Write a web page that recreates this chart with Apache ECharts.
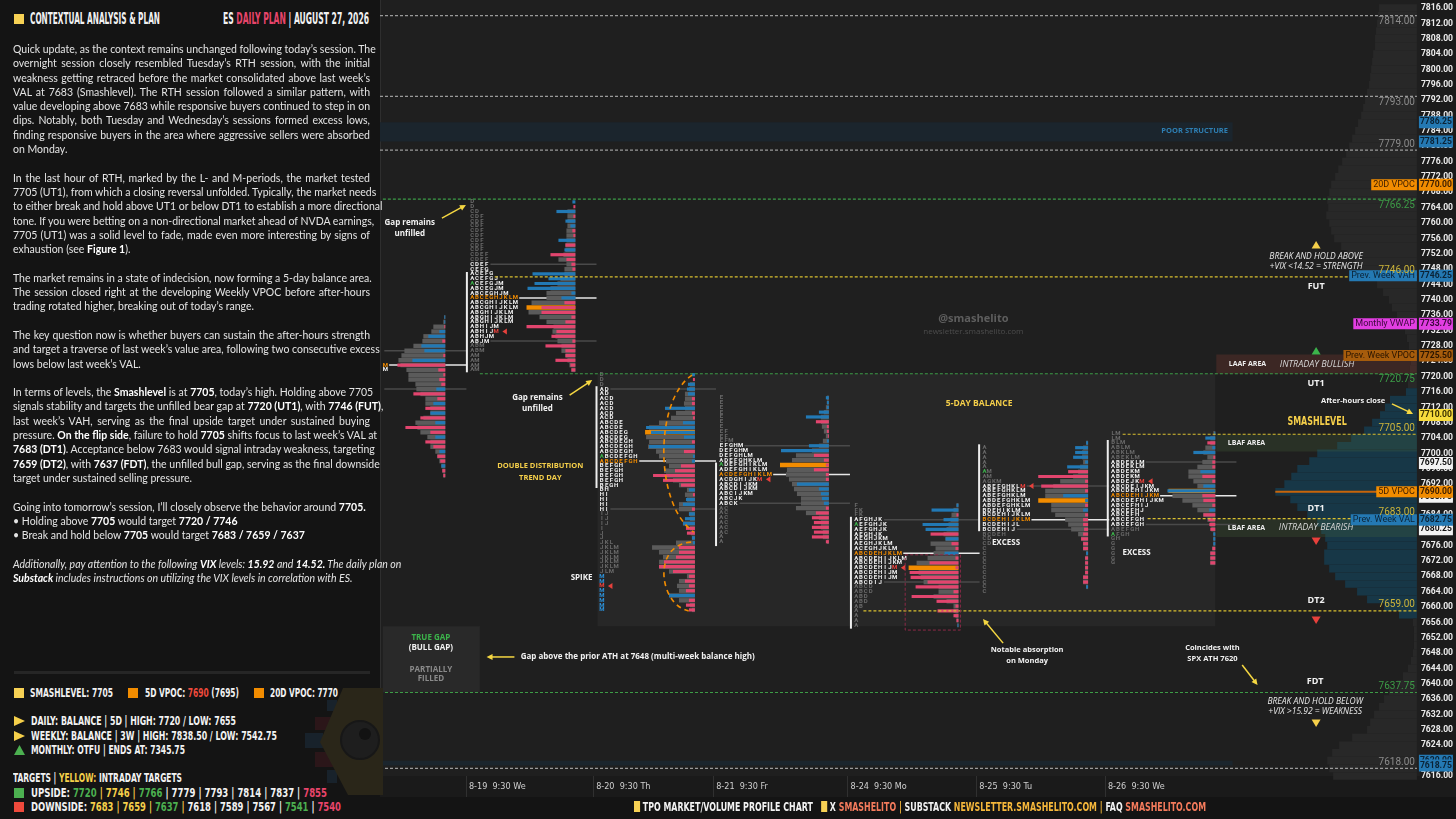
<!DOCTYPE html>
<html lang="en">
<head>
<meta charset="UTF-8">
<title>ES Daily Plan - Contextual Analysis &amp; Plan</title>
<script src="https://cdn.jsdelivr.net/npm/echarts@6.0.0/dist/echarts.min.js"></script>
<style>
html, body { margin: 0; padding: 0; width: 1456px; height: 819px; overflow: hidden; background: #141414; }
#plotbg { position: absolute; left: 380px; top: 0; width: 1040px; height: 776px; background: #1f1f1f; }
#axisbg { position: absolute; left: 1420px; top: 0; width: 36px; height: 797px; background: #1b1b1b; }
#xbg { position: absolute; left: 380px; top: 776px; width: 1040px; height: 21px; background: #1a1a1a; }
#chart { position: absolute; left: 0; top: 0; width: 1456px; height: 819px; }
#panel { position: absolute; left: 0; top: 0; width: 380px; height: 819px; background: #141414; color: #e6e6e6; }
.cond { font-family: "Liberation Sans Narrow", "DejaVu Sans Condensed", "Liberation Sans", sans-serif; font-weight: bold; font-size: 13px; line-height: 14px; color: #f2f2f2; }
.fit { position: absolute; display: inline-block; white-space: nowrap; transform-origin: 0 50%; }
.big { font-size: 15px; line-height: 16px; }
.sq { position: absolute; width: 10px; height: 10px; }
.sqi { display: inline-block; width: 9px; height: 11px; vertical-align: -1px; margin-right: 4px; }
.body { position: absolute; left: 13px; top: 42px; width: 357px; font-family: Lato, "Noto Sans", sans-serif; font-size: 10.5px; line-height: 14.3px; color: #e4e4e4; }
.body div { height: 14.3px; white-space: nowrap; text-align: justify; text-align-last: justify; }
.body div.e { text-align-last: left; }
.body b { font-weight: 700; color: #fff; }
.y { color: #f5cf4a; } .g { color: #4cb050; } .r { color: #ef4a3c; } .p { color: #e8456b; }
.o { color: #f47b5c; } .n { color: #f5b73b; }
.bgy { background: #f7d154; } .bgo { background: #f28c00; } .bgg { background: #4cb050; } .bgr { background: #ef4a3c; }
#sep { position: absolute; left: 14px; top: 671px; width: 356px; height: 3px; background: #262626; }
#logo { position: absolute; left: 0; top: 0; width: 400px; height: 819px; pointer-events: none; }
</style>
</head>
<body>
<div id="plotbg"></div>
<div id="axisbg"></div>
<div id="xbg"></div>
<div id="chart"></div>

<div id="panel">
  <svg id="logo" viewBox="0 0 400 819">
    <rect x="327" y="700" width="10" height="11" fill="#18222b"/>
    <rect x="315" y="717" width="18" height="13" fill="#2b1619"/>
    <rect x="305" y="733" width="18" height="15" fill="#18222b"/>
    <rect x="315" y="752" width="18" height="15" fill="#2b1619"/>
    <rect x="327" y="770" width="10" height="13" fill="#18222b"/>
    <polygon points="343,688 383,688 383,795 348,795 320,742" fill="#2a2619"/>
    <circle cx="360" cy="740" r="19" fill="#1e1e1e" stroke="#171717" stroke-width="2"/>
    <circle cx="365" cy="734" r="6" fill="#121212"/>
  </svg>

  <div class="sq bgy" style="left:14px;top:14px"></div>
  <span class="cond big fit" data-w="130" style="left:30px;top:11px">CONTEXTUAL ANALYSIS &amp; PLAN</span>
  <span class="cond big fit" data-w="146" style="left:223px;top:11px">ES <span class="p">DAILY PLAN</span> | AUGUST 27, 2026</span>

  <div class="body">
    <div>Quick update, as the context remains unchanged following today’s session. The</div>
    <div>overnight session closely resembled Tuesday’s RTH session, with the initial</div>
    <div>weakness getting retraced before the market consolidated above last week’s</div>
    <div>VAL at 7683 (Smashlevel). The RTH session followed a similar pattern, with</div>
    <div>value developing above 7683 while responsive buyers continued to step in on</div>
    <div>dips. Notably, both Tuesday and Wednesday’s sessions formed excess lows,</div>
    <div>finding responsive buyers in the area where aggressive sellers were absorbed</div>
    <div class="e">on Monday.</div>
    <div class="e">&nbsp;</div>
    <div>In the last hour of RTH, marked by the L- and M-periods, the market tested</div>
    <div>7705 (UT1), from which a closing reversal unfolded. Typically, the market needs</div>
    <div>to either break and hold above UT1 or below DT1 to establish a more directional</div>
    <div>tone. If you were betting on a non-directional market ahead of NVDA earnings,</div>
    <div>7705 (UT1) was a solid level to fade, made even more interesting by signs of</div>
    <div class="e">exhaustion (see <b>Figure 1</b>).</div>
    <div class="e">&nbsp;</div>
    <div>The market remains in a state of indecision, now forming a 5-day balance area.</div>
    <div>The session closed right at the developing Weekly VPOC before after-hours</div>
    <div class="e">trading rotated higher, breaking out of today’s range.</div>
    <div class="e">&nbsp;</div>
    <div>The key question now is whether buyers can sustain the after-hours strength</div>
    <div>and target a traverse of last week’s value area, following two consecutive excess</div>
    <div class="e">lows below last week’s VAL.</div>
    <div class="e">&nbsp;</div>
    <div>In terms of levels, the <b>Smashlevel</b> is at <b>7705</b>, today’s high. Holding above 7705</div>
    <div>signals stability and targets the unfilled bear gap at <b>7720 (UT1)</b>, with <b>7746 (FUT)</b>,</div>
    <div>last week’s VAH, serving as the final upside target under sustained buying</div>
    <div>pressure. <b>On the flip side</b>, failure to hold <b>7705</b> shifts focus to last week’s VAL at</div>
    <div><b>7683 (DT1)</b>. Acceptance below 7683 would signal intraday weakness, targeting</div>
    <div><b>7659 (DT2)</b>, with <b>7637 (FDT)</b>, the unfilled bull gap, serving as the final downside</div>
    <div class="e">target under sustained selling pressure.</div>
    <div class="e">&nbsp;</div>
    <div class="e">Going into tomorrow’s session, I’ll closely observe the behavior around <b>7705.</b></div>
    <div class="e">• Holding above <b>7705</b> would target <b>7720 / 7746</b></div>
    <div class="e">• Break and hold below <b>7705</b> would target <b>7683 / 7659 / 7637</b></div>
    <div class="e">&nbsp;</div>
    <div><i>Additionally, pay attention to the following <b>VIX</b> levels: <b>15.92</b> and <b>14.52.</b> The daily plan on</i></div>
    <div class="e"><i><b>Substack</b> includes instructions on utilizing the VIX levels in correlation with ES.</i></div>
  </div>

  <div id="sep"></div>

  <div class="sq bgy" style="left:14px;top:688px"></div>
  <span class="cond fit" data-w="83" style="left:30px;top:686px">SMASHLEVEL: 7705</span>
  <div class="sq bgo" style="left:128px;top:688px"></div>
  <span class="cond fit" data-w="94" style="left:144.7px;top:686px">5D VPOC: <span class="r">7690</span> (7695)</span>
  <div class="sq bgo" style="left:254px;top:688px"></div>
  <span class="cond fit" data-w="68" style="left:270px;top:686px">20D VPOC: 7770</span>

  <svg style="position:absolute;left:14px;top:716px" width="11" height="10"><polygon points="0,0 11,5 0,10" fill="#f5cf4a"/></svg>
  <span class="cond fit" data-w="205" style="left:30.7px;top:714px">DAILY: BALANCE | 5D | HIGH: 7720 / LOW: 7655</span>
  <svg style="position:absolute;left:14px;top:731px" width="11" height="10"><polygon points="0,0 11,5 0,10" fill="#f5cf4a"/></svg>
  <span class="cond fit" data-w="246" style="left:30.7px;top:729px">WEEKLY: BALANCE | 3W | HIGH: 7838.50 / LOW: 7542.75</span>
  <svg style="position:absolute;left:14px;top:745px" width="11" height="10"><polygon points="5.5,0 11,10 0,10" fill="#4cb050"/></svg>
  <span class="cond fit" data-w="154" style="left:30.7px;top:743px">MONTHLY: OTFU | ENDS AT: 7345.75</span>

  <span class="cond fit" data-w="169" style="left:13.3px;top:771px">TARGETS | <span class="y">YELLOW:</span> INTRADAY TARGETS</span>
  <div class="sq bgg" style="left:14px;top:788px"></div>
  <span class="cond fit" data-w="296" style="left:30.7px;top:786px">UPSIDE: <span class="g">7720</span> <span class="y">| 7746 |</span> <span class="g">7766</span> | 7779 | 7793 | 7814 | 7837 | <span class="p">7855</span></span>
  <div class="sq bgr" style="left:14px;top:802px"></div>
  <span class="cond fit" data-w="310" style="left:30.7px;top:800px">DOWNSIDE: <span class="y">7683 | 7659 |</span> <span class="g">7637</span> <span class="y">|</span> 7618 | 7589 | 7567 | <span class="g">7541</span> | <span class="p">7540</span></span>
</div>

<span class="cond fit" data-w="572" style="left:634px;top:800px"><span class="sqi bgy"></span>TPO MARKET/VOLUME PROFILE CHART &nbsp; <span class="sqi bgy"></span>X <span class="o">SMASHELITO</span> <span class="n">|</span> SUBSTACK <span class="n">NEWSLETTER.SMASHELITO.COM</span> <span class="n">|</span> FAQ <span class="o">SMASHELITO.COM</span></span>

<script>
// ---------- chart data ----------
var dayLabels = ['8-19  9:30 We', '8-20  9:30 Th', '8-21  9:30 Fr', '8-24  9:30 Mo', '8-25  9:30 Tu', '8-26  9:30 We'];
var dayCols = [17.9, 44.4, 69.4, 97.4, 124.2, 151.0];

var ROW = 1.25; // price height of one TPO row
var COLS_PER_VOL = 0.2077;

// sessions: 8-18 (partial), 8-19, 8-20, 8-21, 8-24, 8-25, 8-26
var tpoCol = [0.6, 18.7, 45.7, 70.6, 98.7, 125.4, 152.2];
var anchorCol = [13.6, 40.7, 65.6, 93.5, 120.5, 147.5, 174.0];
var tpoTop = [7735.5, 7765.5, 7720.5, 7714.5, 7686.5, 7701.5, 7705.25];
var barTop = [7735.5, 7765.5, 7720.5, 7714.5, 7686.5, 7702.75, 7705.25];
var vaRows = [[7, 15], [13, 29], [3, 28], [10, 22], [3, 16], [8, 17], [6, 19]];
var pocRow = [10, 20, 18, 16, 10, 15, 13];
var volPocRow = [-1, 22, 12, 14, 13, 12, 12];
var openRow = [-1, 17, 17, 14, 4, 5, 21];
var closeRow = [-1, 27, 44, 17, 13, 8, 10];
var rangeBars = [null, [14.6, 35.5], [2.4, 23.6], [13.5, 30.9], [2.4, 25.7], [-0.7, 17.4], [1.4, 21.5]];
var singlePrints = [null, null, [42, 49], null, null, null, null];

var tpo18 = ['', '', '', '', '', '', '', '', '', '', 'M', 'M', '', '', '', '', '', '', '', '', '', '', '', '', '', '', '', '', '', '', '', '', '', ''];
var tpo19 = ['D', 'D', 'CD', 'CDF', 'CDF', 'CDF', 'CDF', 'CDF', 'CDF', 'CDF', 'CDF', 'CDEF', 'CDEF', 'CDEF', 'CEFG', 'ACEFG', 'ACEFGJ', 'ACEFGJM', 'ABCEGJM', 'ABCEGHJM', 'ABCEGHJKLM', 'ABCGHIJKLM', 'ABCGHIJKLM', 'ABGHIJKLM', 'ABGHIJKLM', 'ABGHIJKLM', 'ABHIJM', 'ABHIJM', 'ABHJM', 'ABJM', 'ABM', 'ABM', 'AM', 'AM', 'AM', 'AM'];
var tpo20 = ['D', 'D', 'D', 'AD', 'AD', 'ACD', 'ACD', 'ACD', 'ACD', 'ACD', 'ABCDE', 'ABCDE', 'ABCDEG', 'ABCDEG', 'ABCDEGH', 'ABCDEGH', 'ABCDEGH', 'ABCDEFGH', 'ABCDEFGH', 'BEFGH', 'BEFGH', 'BEFGH', 'BEFGH', 'BEGH', 'BH', 'HI', 'HI', 'HI', 'HI', 'IJ', 'IJ', 'IJ', 'I', 'J', 'J', 'JKL', 'JKLM', 'JKLM', 'JKLM', 'JKLM', 'JKLM', 'JLM', 'M', 'M', 'M', 'M', 'M', 'M', 'M', 'M'];
var tpo21 = ['E', 'E', 'E', 'E', 'E', 'E', 'E', 'EF', 'EF', 'EFM', 'EFGHM', 'DEFGHM', 'DEFGHLM', 'ADEFGHKLM', 'ADEFGHIKLM', 'ADEFGHIKLM', 'ACDEFGHIKLM', 'ACDGHIJKM', 'ABCDIJKM', 'ABCDIJKM', 'ABCIJKM', 'ABCJK', 'ABCK', 'AC', 'AC', 'AC', 'AC', 'AC', 'AC', 'A', 'A'];
var tpo24 = ['F', 'FK', 'FK', 'AFGHJK', 'AEFGHJK', 'AEFGHJK', 'AEGHJK', 'AEGHJKM', 'AEGHJKLM', 'ACEGHJKLM', 'ABCDEHJKLM', 'ABCDEHIJKLM', 'ABCDEHIJKM', 'ABCDEHIJM', 'ABCDEHIJM', 'ABCDEHIJM', 'ABCDIJ', 'ABCD', 'ABCD', 'ABD', 'ABD', 'AB', 'A', 'A', 'A', 'A'];
var tpo25 = ['A', 'A', 'A', 'A', 'A', 'AM', 'AM', 'AGKM', 'ABEFGHKLM', 'ABEFGHKLM', 'ABEFGHKLM', 'ABDEFGHKLM', 'ABDEFGHKLM', 'BDEHIKLM', 'BCDEHIJKLM', 'BCDEHIJKLM', 'BCDEHIJL', 'BCDEHIJ', 'BCDEH', 'CD', 'CD', 'C', 'C', 'C', 'C', 'C', 'C', 'C', 'C', 'C', 'C'];
var tpo26 = ['LM', 'LM', 'BLM', 'ABLM', 'ABKLM', 'ABEKLM', 'ABDEKLM', 'ABDEKLM', 'ABDEKM', 'ABDEKM', 'ABDEJKM', 'ABCDEIJKM', 'ABCDEHIJKM', 'ABCDEHIJKM', 'ABCDEFHIJKM', 'ABCEFHIJ', 'ABCEFHJ', 'ABCEFH', 'ABCEFGH', 'ABCEFGH', 'ABEFGH', 'AFGH', 'GH', 'G', 'G', 'G', 'G', 'G'];

var vol18 = [1, 2, 12, 14, 22, 23, 32, 41, 44, 47, 45, 39, 37, 37, 30, 29, 25, 20, 20, 15, 15, 22, 30, 28, 25, 18, 15, 15, 10, 8, 6, 4, 3, 2];
var dlt18 = [1, 1, -1, 6, 17, -3, 24, 21, -2, 33, -48, -7, -2, -6, -4, 9, -32, -8, 12, -20, 15, -25, 10, -40, -15, 10, -20, -12, 6, -8, -5, 4, -3, -2];
var vol19 = [0, 0, 8, 8, 8, 8, 9, 9, 9, 10, 10, 12, 17, 9, 11, 11, 15, 18, 25, 29, 29, 44, 49, 47, 36, 29, 22, 23, 20, 18, 14, 14, 10, 8, 6, 4];
var dlt19 = [3, -2, 19, -2, 10, 5, -3, -2, 17, -10, 11, -25, -9, -4, -3, 43, 27, 41, 48, 4, 14, -11, -34, -34, -4, -10, -49, -19, -24, -3, -30, -10, -10, -20, -5, -4];
var vol20 = [0, 0, 5, 6, 10, 10, 11, 10, 19, 24, 36, 46, 50, 49, 46, 47, 39, 36, 29, 26, 31, 29, 22, 16, 8, 10, 8, 16, 16, 6, 5, 12, 5, 4, 3, 19, 43, 36, 32, 36, 36, 26, 8, 16, 18, 16, 26, 16, 5, 3];
var dlt20 = [3, -2, 7, 8, 7, -3, -3, 30, -3, -2, 12, 49, 44, 11, -3, 46, -11, 2, 3, -14, -20, -42, -32, -14, 6, -2, 9, 12, -3, 6, 10, 12, -9, -8, 3, 2, -16, -16, -19, -31, -36, -22, -6, -10, -6, -9, 26, -6, -9, -6];
var vol21 = [2, 2, 3, 5, 8, 8, 7, 5, 3, 6, 10, 17, 33, 37, 49, 42, 43, 40, 37, 35, 32, 28, 28, 33, 23, 10, 8, 8, 6, 6, 2];
var dlt21 = [3, 2, 2, 10, 23, -13, -2, -2, -1, 2, 20, 48, -15, -5, -3, -15, -3, -3, 32, 10, 8, 7, 5, -3, -13, -17, -15, -17, -15, -17, -3];
var vol24 = [2, 5, 7, 8, 10, 12, 15, 13, 28, 23, 25, 31, 42, 50, 40, 38, 35, 20, 20, 25, 12, 5, 5, 3, 2, 1];
var dlt24 = [2, 27, -2, 15, 36, 33, -28, 13, -7, -3, 14, -3, -29, -3, -49, -48, -31, -43, -5, -47, -22, -3, -21, -5, -2, 1];
var vol25 = [2, 5, 6, 6, 5, 8, 10, 15, 28, 35, 43, 43, 50, 37, 37, 33, 23, 20, 17, 10, 7, 5, 5, 2, 3, 3, 3, 3, 5, 5, 2];
var dlt25 = [2, 13, 13, 15, 3, 21, -20, -50, -3, -47, -3, 25, 3, -3, 5, -3, -5, -5, -4, -5, -7, -5, -5, 2, -3, -3, -3, -3, -5, -5, 2];
var vol26 = [2, 5, 5, 10, 12, 8, 13, 18, 27, 27, 22, 18, 47, 43, 33, 23, 18, 12, 8, 5, 4, 2, 2, 2, 3, 5, 5, 5];
var dlt26 = [1, 10, -8, 3, 22, -2, -3, -3, 15, -13, -3, 12, 48, -13, -12, -3, 6, -12, -7, -6, -5, 2, 2, 2, -3, -5, -5, -5];

// composite volume profile, 2-point buckets from 7816 down to 7616
var cvpTop = 7816;
var cvpStep = 2;
var cvpVol = [38, 39, 40, 41, 42, 42, 44, 45, 46, 47,
  48, 50, 52, 54, 56, 59, 62, 65, 68, 71,
  75, 79, 82, 86, 88, 90, 89, 91, 88, 86,
  83, 76, 70, 62, 55, 48, 40, 34, 28, 25,
  20, 16, 12, 10, 8, 7, 6, 7, 8, 9,
  11, 27, 32, 37, 45, 53, 66, 80, 100, 108,
  120, 126, 133, 142, 127, 120, 110, 100, 96, 92,
  90, 93, 93, 88, 82, 72, 60, 50, 33, 18,
  4, 3, 3, 3, 4, 6, 9, 14, 20, 28,
  33, 38, 43, 47, 50, 65, 78, 85, 90, 88,
  84];
var cvpValueArea = [7657, 7717];

var levelPrices = [7814, 7793, 7779, 7766.25, 7746, 7720.75, 7705, 7683, 7659, 7637.75, 7618];
var levelKinds = ['ref', 'ref', 'ref', 'green', 'yellow', 'green', 'yellow', 'yellow', 'yellow', 'green', 'ref'];
var balanceRange = [7720.75, 7655];
var poorStructure = [[7786.25, 7781.25], [7620, 7618.75]];
var laafRange = [7725.75, 7720.75];
var lbafRanges = [[7705, 7700.5], [7683, 7678.25]];
var trueGap = [7655, 7637.75];
var fiveDayVpoc = 7690;
var absorptionRange = [7673.6, 7654.0];

var tagPrices = [7688.75, 7680.25, 7786.25, 7781.25, 7770, 7746.25, 7733.79, 7725.5, 7710, 7697.5, 7690, 7682.75, 7620, 7618.75];
var tagKinds = ['white', 'white', 'blue', 'blue', 'orange', 'blue', 'magenta', 'brown', 'yellow', 'white', 'orange', 'blue', 'blue', 'blue'];
var nameTagPrices = [7770, 7746.25, 7733.79, 7725.5, 7690, 7682.75];
var nameTagTexts = ['20D VPOC', 'Prev. Week VAH', 'Monthly VWAP', 'Prev. Week VPOC', '5D VPOC', 'Prev. Week VAL'];
var nameTagKinds = ['orange', 'blue', 'magenta', 'brown', 'orange', 'blue'];

// ---------- styles ----------
var COND = '"Liberation Sans Narrow", "DejaVu Sans Condensed", Roboto, sans-serif';
var C_GRAY = '#5b5b5b', C_BLUE = '#2279b5', C_RED = '#e2456e', C_ORANGE = '#f28c00';
var levelColor = { ref: '#9a9a9a', green: '#3d9c47', yellow: '#d9c030' };
var levelLabelColor = { ref: '#8c8c8c', green: '#3d9c47', yellow: '#cdb53a' };
var levelStartCol = [0, 0, 0, 0.6, 23.9, 20.8, 154.7, 159.9, 100.7, 0, 0];
var levelLabelBelow = [1, 1, 0, 1, 0, 1, 0, 0, 0, 0, 0];
var tagColors = {
  white: ['#f2f2f2', '#111111'], blue: ['#2479b3', '#0b2336'], orange: ['#f28c00', '#3d1e00'],
  magenta: ['#e23ee2', '#3a073a'], brown: ['#a65c0c', '#2a1500'], yellow: ['#f7dc3c', '#3a3000']
};

var tpoRows = [tpo18, tpo19, tpo20, tpo21, tpo24, tpo25, tpo26];
var volRows = [vol18, vol19, vol20, vol21, vol24, vol25, vol26];
var dltRows = [dlt18, dlt19, dlt20, dlt21, dlt24, dlt25, dlt26];

function txt(x, y, text, fill, font, align) {
  return { type: 'text', style: { text: text, x: x, y: y, fill: fill, font: font,
    textAlign: align || 'center', textVerticalAlign: 'middle' } };
}
function rectBetween(a, b, style) {
  return { type: 'rect', shape: { x: Math.min(a[0], b[0]), y: Math.min(a[1], b[1]),
    width: Math.abs(b[0] - a[0]), height: Math.abs(b[1] - a[1]) }, style: style };
}

function layerBg(params, api) {
  var k = [];
  var C = function (c, p) { return api.coord([c, p]); };
  k.push(rectBetween(C(45.3, balanceRange[0]), C(174, balanceRange[1]), { fill: '#272727' }));
  poorStructure.forEach(function (r) {
    k.push(rectBetween(C(0, r[0]), C(177.6, r[1]), { fill: '#1b252d' }));
  });
  k.push(rectBetween(C(0.6, trueGap[0]), C(20.8, trueGap[1]), { fill: '#292929' }));
  return { type: 'group', children: k };
}

function layerProfile(params, api) {
  var k = [];
  cvpVol.forEach(function (v, i) {
    var p = cvpTop - i * cvpStep;
    var inVa = p >= cvpValueArea[0] && p <= cvpValueArea[1];
    k.push(rectBetween(api.coord([216 - v * COLS_PER_VOL, p + cvpStep / 2]), api.coord([216, p - cvpStep / 2]),
      { fill: inVa ? '#173747' : '#282828' }));
  });
  return { type: 'group', children: k };
}

function layerBands(params, api) {
  var k = [];
  var C = function (c, p) { return api.coord([c, p]); };
  k.push(rectBetween(C(174.2, laafRange[0]), C(216, laafRange[1]), { fill: 'rgba(120,55,48,0.32)' }));
  lbafRanges.forEach(function (r) {
    k.push(rectBetween(C(174.2, r[0]), C(216, r[1]), { fill: 'rgba(70,105,60,0.25)' }));
  });
  var a = C(186.5, fiveDayVpoc), b = C(216, fiveDayVpoc);
  k.push({ type: 'line', shape: { x1: a[0], y1: a[1], x2: b[0], y2: b[1] }, style: { stroke: '#c8650a', lineWidth: 2 } });
  return { type: 'group', children: k };
}

function layerSessions(params, api) {
  var k = [];
  var C = function (c, p) { return api.coord([c, p]); };
  for (var s = 0; s < tpoRows.length; s++) {
    var rows = tpoRows[s], vol = volRows[s], dlt = dltRows[s];
    var rowP = (function (s) { return function (r) { return tpoTop[s] - r * ROW; }; })(s);
    var hline = function (r, color, w) {
      var a = C(tpoCol[s] + rows[r].length + 0.3, rowP(r));
      var b = C(anchorCol[s] + 4.4, rowP(r));
      k.push({ type: 'line', shape: { x1: a[0], y1: a[1], x2: b[0], y2: b[1] }, style: { stroke: color, lineWidth: w } });
    };
    hline(vaRows[s][0], '#4a4a4a', 1.5);
    hline(vaRows[s][1], '#4a4a4a', 1.5);
    hline(pocRow[s], '#e6e6e6', 1.5);
    if (rangeBars[s]) {
      var t = C(tpoCol[s] - 0.6, rowP(rangeBars[s][0])), u = C(tpoCol[s] - 0.6, rowP(rangeBars[s][1]));
      k.push({ type: 'line', shape: { x1: t[0], y1: t[1], x2: u[0], y2: u[1] }, style: { stroke: '#eeeeee', lineWidth: 2 } });
    }
    for (var r = 0; r < vol.length; r++) {
      var p = barTop[s] - r * ROW;
      var a = C(anchorCol[s], p);
      var g = C(anchorCol[s] - vol[r] * COLS_PER_VOL, p);
      k.push({ type: 'rect', shape: { x: g[0], y: a[1] - 2.2, width: a[0] - g[0], height: 4.4 },
        style: { fill: r === volPocRow[s] ? C_ORANGE : C_GRAY } });
      var e = C(anchorCol[s] - Math.abs(dlt[r]) * COLS_PER_VOL, p);
      k.push({ type: 'rect', shape: { x: e[0], y: a[1] - 1.6, width: a[0] - e[0], height: 3.2 },
        style: { fill: dlt[r] >= 0 ? C_BLUE : C_RED } });
    }
    for (var r2 = 0; r2 < rows.length; r2++) {
      var str = rows[r2];
      var p2 = rowP(r2);
      var base;
      if (r2 === pocRow[s]) base = C_ORANGE;
      else if (singlePrints[s] && r2 >= singlePrints[s][0] && r2 <= singlePrints[s][1]) base = '#2b8fd6';
      else if (r2 >= vaRows[s][0] && r2 <= vaRows[s][1]) base = '#f0f0f0';
      else base = '#6a6a6a';
      for (var j = 0; j < str.length; j++) {
        var fill = base;
        if (r2 === openRow[s] && j === 0) fill = '#3cb44b';
        if (r2 === closeRow[s] && j === str.length - 1) fill = '#e8413c';
        var c = C(tpoCol[s] + j + 0.5, p2);
        k.push(txt(c[0], c[1], str[j], fill, 'bold 6px Roboto', 'center'));
      }
      if (r2 === closeRow[s]) {
        var m = C(tpoCol[s] + str.length + 1.1, p2);
        k.push({ type: 'polygon', shape: { points: [[m[0] + 3, m[1] - 3], [m[0] + 3, m[1] + 3], [m[0] - 1.5, m[1]]] }, style: { fill: '#e8413c' } });
      }
    }
  }
  return { type: 'group', children: k };
}

function layerLevels(params, api) {
  var k = [];
  levelPrices.forEach(function (p, i) {
    var a = api.coord([levelStartCol[i], p]), b = api.coord([216, p]);
    k.push({ type: 'line', shape: { x1: a[0], y1: a[1], x2: b[0], y2: b[1] },
      style: { stroke: levelColor[levelKinds[i]], lineWidth: 1.2, lineDash: [3, 2] } });
  });
  return { type: 'group', children: k };
}

function layerLevelLabels(params, api) {
  var k = [];
  levelPrices.forEach(function (p, i) {
    var b = api.coord([216, p]);
    k.push(txt(b[0] - 2, b[1] + (levelLabelBelow[i] ? 6 : -6), p.toFixed(2), levelLabelColor[levelKinds[i]], '10px Roboto', 'right'));
  });
  return { type: 'group', children: k };
}

var annotations = [
  { t: 'Gap remains', c: 6.2, p: 7760.0, f: 'note' }, { t: 'unfilled', c: 6.2, p: 7757.1, f: 'note' },
  { t: 'Gap remains', c: 32.8, p: 7714.4, f: 'note' }, { t: 'unfilled', c: 32.8, p: 7711.6, f: 'note' },
  { t: 'DOUBLE DISTRIBUTION', c: 33.4, p: 7696.7, f: 'yel' }, { t: 'TREND DAY', c: 33.4, p: 7693.6, f: 'yel' },
  { t: 'SPIKE', c: 42.0, p: 7667.6, f: 'note' },
  { t: '5-DAY BALANCE', c: 124.8, p: 7712.9, f: 'yel2' },
  { t: 'EXCESS', c: 130.4, p: 7676.7, f: 'note' }, { t: 'EXCESS', c: 157.6, p: 7674.1, f: 'note' },
  { t: 'Notable absorption', c: 134.8, p: 7648.8, f: 'small' }, { t: 'on Monday', c: 134.8, p: 7645.9, f: 'small' },
  { t: 'Coincides with', c: 173.4, p: 7649.3, f: 'small' }, { t: 'SPX ATH 7620', c: 173.4, p: 7646.4, f: 'small' },
  { t: 'After-hours close', c: 202.7, p: 7713.7, f: 'small' },
  { t: 'BREAK AND HOLD ABOVE', c: 195.0, p: 7751.2, f: 'ital' }, { t: '+VIX <14.52 = STRENGTH', c: 195.0, p: 7748.6, f: 'ital' },
  { t: 'FUT', c: 195.0, p: 7743.6, f: 'lvl' }, { t: 'UT1', c: 195.0, p: 7718.3, f: 'lvl' },
  { t: 'DT1', c: 195.0, p: 7685.8, f: 'lvl' }, { t: 'DT2', c: 195.0, p: 7661.8, f: 'lvl' },
  { t: 'FDT', c: 194.8, p: 7640.5, f: 'lvl' },
  { t: 'BREAK AND HOLD BELOW', c: 194.8, p: 7635.3, f: 'ital' }, { t: '+VIX >15.92 = WEAKNESS', c: 194.8, p: 7632.7, f: 'ital' },
  { t: 'POOR STRUCTURE', c: 169.7, p: 7784.0, f: 'poor' },
  { t: 'LAAF AREA', c: 180.7, p: 7723.3, f: 'area' }, { t: 'INTRADAY BULLISH', c: 195.2, p: 7723.3, f: 'ital2' },
  { t: 'LBAF AREA', c: 180.5, p: 7702.7, f: 'area' },
  { t: 'LBAF AREA', c: 180.5, p: 7680.6, f: 'area' }, { t: 'INTRADAY BEARISH', c: 195.0, p: 7680.6, f: 'ital2' },
  { t: '@smashelito', c: 123.6, p: 7735.0, f: 'wm' }, { t: 'newsletter.smashelito.com', c: 123.6, p: 7731.6, f: 'wm2' },
  { t: 'TRUE GAP', c: 10.6, p: 7651.9, f: 'gapg' }, { t: '(BULL GAP)', c: 10.6, p: 7649.3, f: 'note' },
  { t: 'PARTIALLY', c: 10.6, p: 7643.8, f: 'gapx' }, { t: 'FILLED', c: 10.6, p: 7641.3, f: 'gapx' }
];
var noteFonts = {
  note: ['#f2f2f2', 'bold 8px "Open Sans"', 'center'],
  small: ['#f2f2f2', 'bold 7.5px "Open Sans"', 'center'],
  yel: ['#f5cf4a', 'bold 7.5px "Open Sans"', 'center'],
  yel2: ['#f5cf4a', 'bold 8.5px "Open Sans"', 'center'],
  ital: ['#e8e8e8', 'italic 8.5px "Open Sans"', 'center'],
  ital2: ['#d6d6d6', 'italic 9px "Open Sans"', 'center'],
  lvl: ['#f2f2f2', 'bold 9px "Open Sans"', 'center'],
  poor: ['#2e7fb3', 'bold 7.5px "Open Sans"', 'center'],
  area: ['#eeeeee', 'bold 7px "Open Sans"', 'center'],
  wm: ['#5e5e5e', 'bold 11px "Open Sans"', 'center'],
  wm2: ['#4c4c4c', '8px "Open Sans"', 'center'],
  gapg: ['#3cb44b', 'bold 8px "Open Sans"', 'center'],
  gapx: ['#8a8a8a', 'bold 8px "Open Sans"', 'center']
};
var arrows = [
  [[12.9, 7761.3], [17.9, 7764.7]], [[39.5, 7715.2], [44.2, 7719.1]], [[28.0, 7647.0], [22.2, 7647.0]],
  [[129.8, 7650.6], [125.6, 7656.9]], [[179.6, 7644.9], [182.8, 7639.7]], [[210.8, 7712.9], [215.2, 7710.3]]
];
var markers = [
  [195.0, 7754.3, 'up', '#f5cf4a'], [195.0, 7726.7, 'up', '#3cb44b'], [195.0, 7677.2, 'down', '#e8413c'],
  [195.0, 7656.6, 'down', '#e8413c'], [195.0, 7629.8, 'down', '#f5cf4a']
];

function layerNotes(params, api) {
  var k = [];
  var C = function (c, p) { return api.coord([c, p]); };
  annotations.forEach(function (n) {
    var f = noteFonts[n.f], c = C(n.c, n.p);
    k.push(txt(c[0], c[1], n.t, f[0], f[1], f[2]));
  });
  var g = C(29.3, 7647.0);
  k.push(txt(g[0], g[1], 'Gap above the prior ATH at 7648 (multi-week balance high)', '#f2f2f2', 'bold 8px "Open Sans"', 'left'));
  var sl = C(195.2, 7708.2);
  k.push({ type: 'text', x: sl[0], y: sl[1], scaleX: 0.68,
    style: { text: 'SMASHLEVEL', x: 0, y: 0, fill: '#f5cf4a', font: 'bold 13px ' + COND, textAlign: 'center', textVerticalAlign: 'middle' } });
  arrows.forEach(function (ar) {
    var a = C(ar[0][0], ar[0][1]), b = C(ar[1][0], ar[1][1]);
    var dx = b[0] - a[0], dy = b[1] - a[1], L = Math.sqrt(dx * dx + dy * dy);
    var ux = dx / L, uy = dy / L, nx = -uy, ny = ux;
    k.push({ type: 'line', shape: { x1: a[0], y1: a[1], x2: b[0] - ux * 4, y2: b[1] - uy * 4 }, style: { stroke: '#f5d742', lineWidth: 1.5 } });
    k.push({ type: 'polygon', shape: { points: [[b[0], b[1]], [b[0] - ux * 6 + nx * 3, b[1] - uy * 6 + ny * 3], [b[0] - ux * 6 - nx * 3, b[1] - uy * 6 - ny * 3]] }, style: { fill: '#f5d742' } });
  });
  markers.forEach(function (m) {
    var c = C(m[0], m[1]);
    var pts = m[2] === 'up' ? [[c[0], c[1] - 4], [c[0] + 4.5, c[1] + 3.5], [c[0] - 4.5, c[1] + 3.5]]
      : [[c[0], c[1] + 4], [c[0] + 4.5, c[1] - 3.5], [c[0] - 4.5, c[1] - 3.5]];
    k.push({ type: 'polygon', shape: { points: pts }, style: { fill: m[3] } });
  });
  // double distribution arcs on 8-20
  var arc = function (p0, c1, c2, p3) {
    var a = C(p0[0], p0[1]), b = C(c1[0], c1[1]), d = C(c2[0], c2[1]), e = C(p3[0], p3[1]);
    k.push({ type: 'bezierCurve', shape: { x1: a[0], y1: a[1], cpx1: b[0], cpy1: b[1], cpx2: d[0], cpy2: d[1], x2: e[0], y2: e[1] },
      style: { stroke: C_ORANGE, lineWidth: 1.6, lineDash: [5, 4], fill: null } });
  };
  arc([65.0, 7720.4], [57.1, 7713.9], [57.1, 7686.6], [65.4, 7679.5]);
  arc([64.8, 7676.9], [56.5, 7676.2], [58.2, 7660.5], [64.3, 7659.0]);
  // absorption box on Monday
  var r1 = C(109.4, absorptionRange[0]), r2 = C(120.9, absorptionRange[1]);
  k.push({ type: 'rect', shape: { x: r1[0], y: r1[1], width: r2[0] - r1[0], height: r2[1] - r1[1] },
    style: { fill: null, stroke: '#8c2a48', lineWidth: 1, lineDash: [3, 2] } });
  return { type: 'group', children: k };
}

function layerTags(params, api) {
  var k = [];
  var xr = api.coord([216, 7700])[0];
  tagPrices.forEach(function (p, i) {
    var y = api.coord([216, p])[1], c = tagColors[tagKinds[i]];
    k.push({ type: 'rect', shape: { x: xr + 2, y: y - 6, width: 34, height: 12 }, style: { fill: c[0] } });
    k.push(txt(xr + 19, y, p.toFixed(2), c[1], 'bold 8.6px Roboto', 'center'));
  });
  nameTagPrices.forEach(function (p, i) {
    var y = api.coord([216, p])[1], c = tagColors[nameTagKinds[i]];
    k.push({ type: 'text', style: { text: nameTagTexts[i], x: xr, y: y, fill: c[1], font: '9px Roboto',
      textAlign: 'right', textVerticalAlign: 'middle', backgroundColor: c[0], padding: [1, 2, 1, 2] } });
  });
  return { type: 'group', children: k };
}

function layer(name, z, fn) {
  return { type: 'custom', name: name, z: z, silent: true, clip: false, animation: false,
    renderItem: fn, data: [[0, 7700]] };
}

var chart = echarts.init(document.getElementById('chart'));
chart.setOption({
  backgroundColor: 'transparent',
  animation: false,
  grid: { left: 380, top: 0, width: 1040, height: 776 },
  xAxis: {
    type: 'value', min: 0, max: 216,
    axisLine: { show: false },
    splitLine: { show: false },
    axisTick: { show: true, customValues: dayCols, length: 21, lineStyle: { color: '#303030' } },
    axisLabel: {
      customValues: dayCols, align: 'left', padding: [0, 0, 0, 3], margin: 6,
      color: '#d0d0d0', fontSize: 9, fontFamily: COND,
      formatter: function (v) { var i = dayCols.indexOf(v); return i >= 0 ? dayLabels[i] : ''; }
    }
  },
  yAxis: {
    type: 'value', position: 'right', min: 7616, max: 7818.08, interval: 4,
    axisLine: { show: true, lineStyle: { color: '#2e2e2e' } },
    axisTick: { show: false },
    splitLine: { show: false },
    axisLabel: {
      color: '#ececec', fontSize: 8.6, fontWeight: 'bold', fontFamily: 'Roboto', margin: 4, showMaxLabel: false,
      formatter: function (v) { return v.toFixed(2); }
    }
  },
  series: [
    layer('background', 1, layerBg),
    layer('composite', 2, layerProfile),
    layer('bands', 3, layerBands),
    layer('sessions', 4, layerSessions),
    layer('levels', 5, layerLevels),
    layer('notes', 6, layerNotes),
    layer('tags', 7, layerTags),
    layer('levelLabels', 8, layerLevelLabels)
  ]
});

function fitAll() {
  document.querySelectorAll('.fit').forEach(function (el) {
    el.style.transform = 'none';
    var w = el.getBoundingClientRect().width;
    el.style.transform = 'scaleX(' + (+el.dataset.w / w) + ')';
  });
}
fitAll();
if (document.fonts && document.fonts.ready) document.fonts.ready.then(fitAll);
</script>
</body>
</html>
